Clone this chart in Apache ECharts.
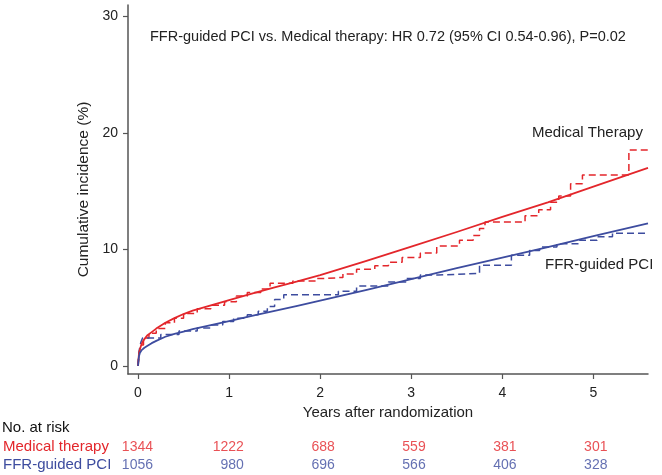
<!DOCTYPE html>
<html>
<head>
<meta charset="utf-8">
<script src="https://cdn.jsdelivr.net/npm/echarts@6/dist/echarts.min.js"></script>
<style>
html,body{margin:0;padding:0;background:#fff;}
#chart{width:662px;height:475px;}
</style>
</head>
<body>
<div id="chart"></div>
<script>
// ---- data ----
var xTicks = [0, 1, 2, 3, 4, 5];
var yTicks = [0, 10, 20, 30];

// fitted (solid) curves: [years, cumulative incidence %]
var medFit = [[0,0],[0.01,1.0],[0.02,1.4],[0.04,1.9],[0.07,2.3],[0.1,2.6],[0.15,2.9],[0.2,3.2],[0.3,3.7],[0.4,4.1],[0.5,4.45],[0.6,4.75],[0.8,5.2],[1.0,5.65],[1.25,6.2],[1.5,6.75],[1.75,7.25],[2.0,7.8],[2.5,9.0],[3.0,10.25],[3.5,11.5],[4.0,12.8],[4.5,14.05],[5.0,15.4],[5.6,17.0]];
var ffrFit = [[0,0],[0.01,0.8],[0.02,1.1],[0.04,1.35],[0.07,1.55],[0.1,1.7],[0.15,1.95],[0.2,2.15],[0.3,2.5],[0.4,2.75],[0.5,2.95],[0.6,3.15],[0.8,3.5],[1.0,3.85],[1.25,4.3],[1.5,4.72],[1.75,5.15],[2.0,5.6],[2.25,6.05],[2.5,6.5],[3.0,7.45],[3.5,8.4],[4.0,9.3],[4.5,10.2],[5.0,11.15],[5.6,12.25]];

// Kaplan-Meier (dashed) step curves
var medKM = [[0,0],[0.01,1.0],[0.03,1.8],[0.06,2.4],[0.12,2.8],[0.2,3.2],[0.3,3.7],[0.4,4.1],[0.5,4.5],[0.65,4.9],[0.8,5.2],[0.95,5.5],[1.08,6.0],[1.2,6.3],[1.35,6.6],[1.45,7.1],[1.7,7.3],[1.95,7.5],[2.05,7.6],[2.25,7.9],[2.4,8.3],[2.6,8.6],[2.75,8.9],[2.9,9.3],[3.1,9.7],[3.28,10.3],[3.53,10.8],[3.68,11.2],[3.75,11.8],[3.81,12.35],[4.25,12.9],[4.4,13.4],[4.53,14.05],[4.62,14.6],[4.75,15.65],[4.88,16.4],[5.39,18.55],[5.6,18.55]];
var ffrKM = [[0,0],[0.01,1.2],[0.03,2.0],[0.05,2.4],[0.25,2.7],[0.45,3.0],[0.65,3.25],[0.8,3.5],[0.93,3.8],[1.05,4.1],[1.2,4.4],[1.32,4.7],[1.42,5.1],[1.5,5.7],[1.6,6.1],[2.2,6.4],[2.4,6.85],[2.75,7.2],[2.95,7.5],[3.1,7.8],[3.3,7.95],[3.75,8.65],[4.1,9.5],[4.3,9.9],[4.41,10.2],[4.6,10.5],[4.85,10.8],[5.04,11.1],[5.21,11.4],[5.6,11.4]];

// numbers at risk
var riskGroups = ['Medical therapy', 'FFR-guided PCI'];
var riskTimes = [0, 1, 2, 3, 4, 5];
var riskMed = [1344, 1222, 688, 559, 381, 301];
var riskFFR = [1056, 980, 696, 566, 406, 328];

var RED = '#e3262b';
var BLUE = '#3d4c9f';
var FONT = '"Liberation Sans", Arial, Helvetica, sans-serif';

function riskData(vals, group) {
  return riskTimes.map(function (t, i) { return [t, group, vals[i]]; });
}

var chart = echarts.init(document.getElementById('chart'), null, {renderer: 'canvas'});
var option = {
  animation: false,
  backgroundColor: '#fff',
  textStyle: {fontFamily: FONT},
  grid: [
    {left: 128, right: 14, top: 5, bottom: 101, containLabel: false},
    {left: 128, right: 14, top: 438, height: 36, containLabel: false}
  ],
  xAxis: [
    {
      gridIndex: 0, type: 'value', min: -0.11, max: 5.6,
      name: 'Years after randomization', nameLocation: 'middle', nameGap: 25,
      nameTextStyle: {color: '#222', fontSize: 15, fontFamily: FONT},
      splitLine: {show: false},
      axisLine: {show: true, onZero: false, lineStyle: {color: '#555', width: 1.5}},
      axisTick: {show: true, length: 5, customValues: xTicks, lineStyle: {color: '#555', width: 1.2}},
      axisLabel: {customValues: xTicks, color: '#222', fontSize: 14, margin: 12, fontFamily: FONT}
    },
    {
      gridIndex: 1, type: 'value', min: -0.11, max: 5.6, show: false
    }
  ],
  yAxis: [
    {
      gridIndex: 0, type: 'value', min: -0.7, max: 31,
      name: 'Cumulative incidence (%)', nameLocation: 'middle', nameGap: 34,
      nameTextStyle: {color: '#222', fontSize: 15.5, fontFamily: FONT},
      splitLine: {show: false},
      axisLine: {show: true, onZero: false, lineStyle: {color: '#555', width: 1.5}},
      axisTick: {show: true, length: 5, customValues: yTicks, lineStyle: {color: '#555', width: 1.2}},
      axisLabel: {customValues: yTicks, color: '#222', fontSize: 14, margin: 10, fontFamily: FONT}
    },
    {
      gridIndex: 1, type: 'category', data: riskGroups, inverse: true,
      axisLine: {show: false}, axisTick: {show: false}, splitLine: {show: false},
      axisLabel: {
        show: true, interval: 0, align: 'left', margin: 126, fontSize: 15, fontFamily: FONT,
        color: function (v) { return v === riskGroups[0] ? RED : BLUE; }
      }
    }
  ],
  graphic: [
    {type: 'text', left: 150, top: 29, style: {text: 'FFR-guided PCI vs. Medical therapy: HR 0.72 (95% CI 0.54-0.96), P=0.02', fill: '#222', font: '14.5px ' + FONT}},
    {type: 'text', left: 532, top: 125, style: {text: 'Medical Therapy', fill: '#222', font: '15px ' + FONT}},
    {type: 'text', left: 545, top: 257, style: {text: 'FFR-guided PCI', fill: '#222', font: '15px ' + FONT}},
    {type: 'text', left: 2, top: 420, style: {text: 'No. at risk', fill: '#111', font: '15px ' + FONT}}
  ],
  series: [
    {type: 'line', name: 'Medical fit', xAxisIndex: 0, yAxisIndex: 0, data: medFit, smooth: false, showSymbol: false, symbol: 'none', lineStyle: {color: RED, width: 1.8, join: 'round'}, z: 3},
    {type: 'line', name: 'FFR fit', xAxisIndex: 0, yAxisIndex: 0, data: ffrFit, smooth: false, showSymbol: false, symbol: 'none', lineStyle: {color: BLUE, width: 1.8, join: 'round'}, z: 3},
    {type: 'line', name: 'Medical KM', xAxisIndex: 0, yAxisIndex: 0, data: medKM, step: 'end', showSymbol: false, symbol: 'none', lineStyle: {color: RED, width: 1.5, type: [7, 4]}, z: 2},
    {type: 'line', name: 'FFR KM', xAxisIndex: 0, yAxisIndex: 0, data: ffrKM, step: 'end', showSymbol: false, symbol: 'none', lineStyle: {color: BLUE, width: 1.5, type: [7, 4]}, z: 2},
    {type: 'scatter', xAxisIndex: 1, yAxisIndex: 1, data: riskData(riskMed, riskGroups[0]), symbolSize: 1, itemStyle: {color: 'rgba(0,0,0,0)'},
     label: {show: true, position: 'inside', align: 'right', offset: [14, 0], color: RED, fontSize: 14, fontFamily: FONT, formatter: function (p) { return String(p.value[2]); }}},
    {type: 'scatter', xAxisIndex: 1, yAxisIndex: 1, data: riskData(riskFFR, riskGroups[1]), symbolSize: 1, itemStyle: {color: 'rgba(0,0,0,0)'},
     label: {show: true, position: 'inside', align: 'right', offset: [14, 0], color: BLUE, fontSize: 14, fontFamily: FONT, formatter: function (p) { return String(p.value[2]); }}}
  ]
};
chart.setOption(option);
</script>
</body>
</html>
